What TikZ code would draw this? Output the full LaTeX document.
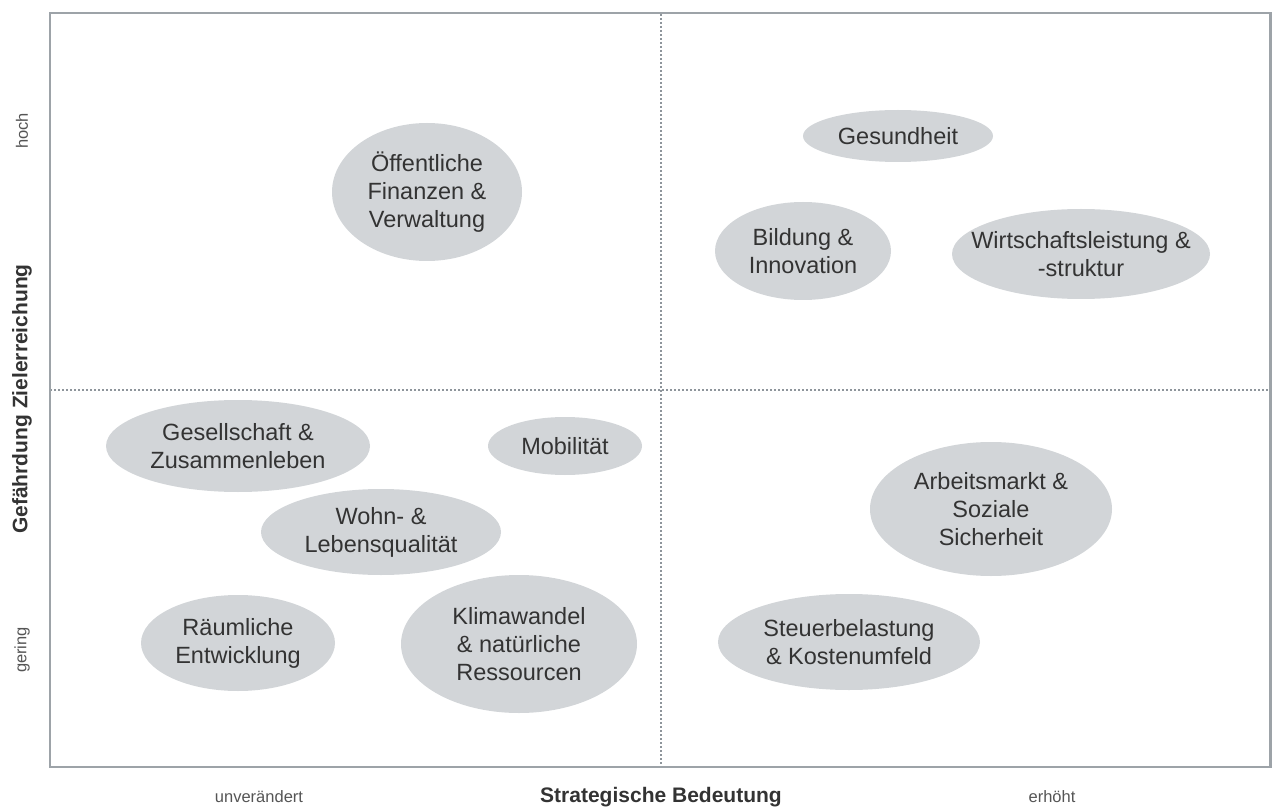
\documentclass[tikz,border=0pt]{standalone}
\usepackage{fontspec}
\setmainfont{Liberation Sans}
\usetikzlibrary{shapes.geometric}
\definecolor{framegray}{HTML}{9DA3A8}
\definecolor{dotgray}{HTML}{8E959B}
\definecolor{blobfill}{HTML}{D2D5D8}
\definecolor{txtgray}{HTML}{333333}
\definecolor{lblgray}{HTML}{555555}
\begin{document}
\begin{tikzpicture}[x=1pt,y=-1pt,
  blob/.style={ellipse, fill=blobfill, draw=none, inner sep=0pt},
  blobtext/.style={align=center, text=txtgray, font=\fontsize{23.5}{28}\selectfont, inner sep=0pt},
  axlabel/.style={text=lblgray, font=\fontsize{16.5}{20}\selectfont, inner sep=0pt},
  axtitle/.style={text=txtgray, font=\fontsize{21}{25}\selectfont\bfseries, inner sep=0pt},
  dotline/.style={dotgray, line width=1.6pt, dash pattern=on 1.6pt off 2.4pt}
]
\useasboundingbox (0,0) rectangle (1272,810);
% quadrant dividers
\coordinate (vt) at (661,14);
\coordinate (vb) at (661,766);
\coordinate (hl) at (50,390);
\coordinate (hr) at (1270,390);
\draw[dotline] (vt) -- (vb);
\draw[dotline] (hl) -- (hr);
% frame
\draw[framegray, line width=2.2pt] (50,13) rectangle (1270.5,767);

% ellipses
\node[blob, minimum width=190pt, minimum height=138pt] (oef) at (427,192) {};
\node[blobtext] at (oef) {Öffentliche\\Finanzen \&\\Verwaltung};

\node[blob, minimum width=190pt, minimum height=52pt] (gesu) at (898,136) {};
\node[blobtext] at (gesu) {Gesundheit};

\node[blob, minimum width=176pt, minimum height=98pt] (bild) at (803,251) {};
\node[blobtext] at (bild) {Bildung \&\\Innovation};

\node[blob, minimum width=258pt, minimum height=90pt] (wirt) at (1081,254) {};
\node[blobtext] at (wirt) {Wirtschaftsleistung \&\\-struktur};

\node[blob, minimum width=264pt, minimum height=92pt] (gese) at (238,446) {};
\node[blobtext] at (gese) {Gesellschaft \&\\Zusammenleben};

\node[blob, minimum width=154pt, minimum height=58pt] (mobi) at (565,446) {};
\node[blobtext] at (mobi) {Mobilität};

\node[blob, minimum width=240pt, minimum height=86pt] (wohn) at (381,532) {};
\node[blobtext] at (wohn) {Wohn- \&\\Lebensqualität};

\node[blob, minimum width=242pt, minimum height=134pt] (arbe) at (991,509) {};
\node[blobtext] at (arbe) {Arbeitsmarkt \&\\Soziale\\Sicherheit};

\node[blob, minimum width=194pt, minimum height=96pt] (raum) at (238,643) {};
\node[blobtext] at (raum) {Räumliche\\Entwicklung};

\node[blob, minimum width=236pt, minimum height=138pt] (klim) at (519,644) {};
\node[blobtext] at (klim) {Klimawandel\\\& natürliche\\Ressourcen};

\node[blob, minimum width=262pt, minimum height=96pt] (steu) at (849,642) {};
\node[blobtext] at (steu) {Steuerbelastung\\\& Kostenumfeld};

% axis labels
\node[axlabel, rotate=90] (hoch) at (22,131) {hoch};
\node[axlabel, rotate=90] (gering) at (22,650) {gering};
\node[axtitle, rotate=90] (ytitle) at (22,399) {Gefährdung Zielerreichung};
\node[axlabel] (unv) at (259,797) {unverändert};
\node[axlabel] (erh) at (1052,797) {erhöht};
\node[axtitle] (xtitle) at (661,797) {Strategische Bedeutung};
\end{tikzpicture}
\end{document}
